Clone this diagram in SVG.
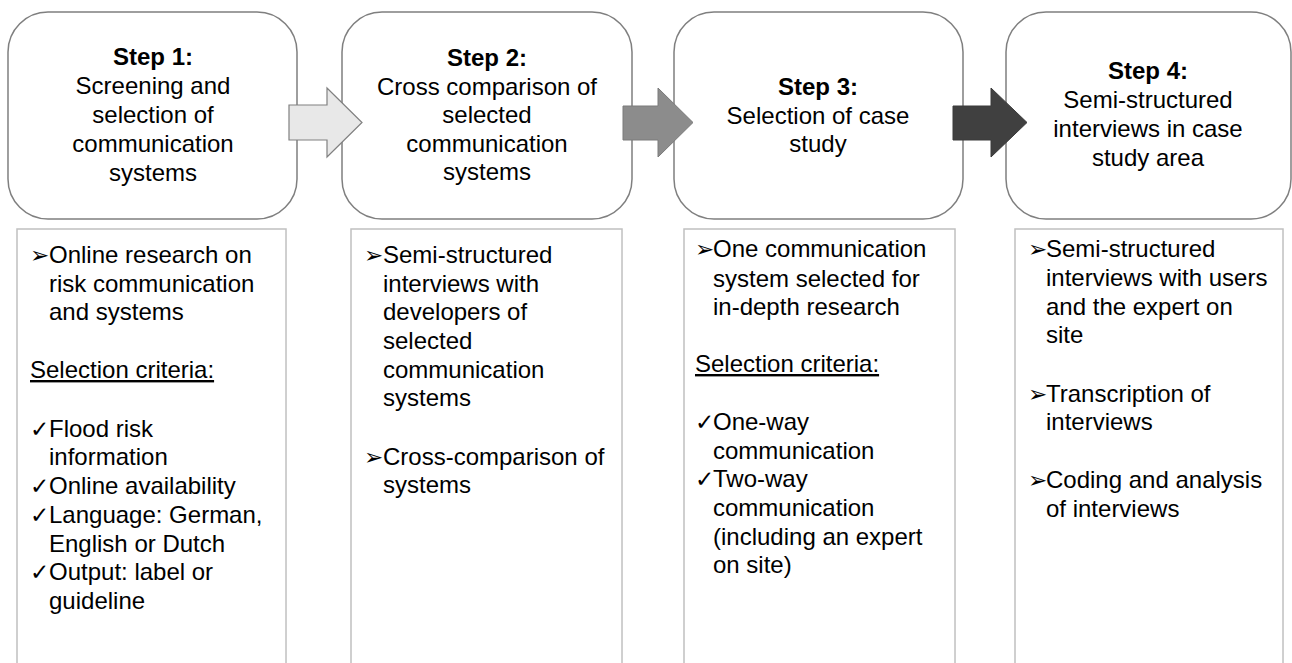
<svg xmlns="http://www.w3.org/2000/svg" width="1292" height="663" viewBox="0 0 1292 663">
<style>
.step{fill:#fff;stroke:#7f7f7f;stroke-width:1.5}
.det{fill:#fff;stroke:#c0c0c0;stroke-width:1.5}
text{font-family:"Liberation Sans",Arial,sans-serif;font-size:24px;fill:#000}
.c{text-anchor:middle}
.b{font-weight:bold}
.sym{font-family:"DejaVu Sans",sans-serif;font-size:23px}
.u{text-decoration:underline}
</style>
<rect width="1292" height="663" fill="#fff"/>
<g id="step1">
<rect class="step" x="8" y="12" width="289" height="207" rx="40"/>
<text class="c b" x="153" y="65">Step 1:</text>
<text class="c" x="153" y="94">Screening and</text>
<text class="c" x="153" y="123">selection of</text>
<text class="c" x="153" y="152">communication</text>
<text class="c" x="153" y="181">systems</text>
</g>
<g id="step2">
<rect class="step" x="342" y="12" width="290" height="207" rx="40"/>
<text class="c b" x="487" y="66">Step 2:</text>
<text class="c" x="487" y="95">Cross comparison of</text>
<text class="c" x="487" y="123">selected</text>
<text class="c" x="487" y="152">communication</text>
<text class="c" x="487" y="180">systems</text>
</g>
<g id="step3">
<rect class="step" x="674" y="12" width="289" height="207" rx="40"/>
<text class="c b" x="818" y="95">Step 3:</text>
<text class="c" x="818" y="124">Selection of case</text>
<text class="c" x="818" y="152">study</text>
</g>
<g id="step4">
<rect class="step" x="1006" y="12" width="285" height="207" rx="40"/>
<text class="c b" x="1148" y="79">Step 4:</text>
<text class="c" x="1148" y="108">Semi-structured</text>
<text class="c" x="1148" y="137">interviews in case</text>
<text class="c" x="1148" y="166">study area</text>
</g>
<g id="connectors">
<path d="M289,105 H327 V88 L362,122.5 L327,157 V140 H289 Z" fill="#e8e8e8" stroke="#808080" stroke-width="1.2"/>
<path d="M623,106 H658 V88 L693,122.5 L658,157 V140 H623 Z" fill="#8c8c8c" stroke="#7a7a7a" stroke-width="1"/>
<path d="M953,106 H991 V88 L1027,122.5 L991,157 V140 H953 Z" fill="#404040" stroke="#3a3a3a" stroke-width="1"/>
</g>
<g id="detail1">
<rect class="det" x="17" y="229" width="269" height="450"/>
<text class="sym" x="30" y="263">➢</text>
<text x="49" y="263">Online research on</text>
<text x="49" y="292">risk communication</text>
<text x="49" y="320">and systems</text>
<text class="u" x="30" y="378">Selection criteria:</text>
<text class="sym" x="30" y="437">✓</text>
<text x="49" y="437">Flood risk</text>
<text x="49" y="465">information</text>
<text class="sym" x="30" y="494">✓</text>
<text x="49" y="494">Online availability</text>
<text class="sym" x="30" y="523">✓</text>
<text x="49" y="523">Language: German,</text>
<text x="49" y="552">English or Dutch</text>
<text class="sym" x="30" y="580">✓</text>
<text x="49" y="580">Output: label or</text>
<text x="49" y="609">guideline</text>
</g>
<g id="detail2">
<rect class="det" x="351" y="229" width="271" height="450"/>
<text class="sym" x="364" y="263">➢</text>
<text x="383" y="263">Semi-structured</text>
<text x="383" y="292">interviews with</text>
<text x="383" y="320">developers of</text>
<text x="383" y="349">selected</text>
<text x="383" y="378">communication</text>
<text x="383" y="406">systems</text>
<text class="sym" x="364" y="465">➢</text>
<text x="383" y="465">Cross-comparison of</text>
<text x="383" y="493">systems</text>
</g>
<g id="detail3">
<rect class="det" x="684" y="229" width="271" height="450"/>
<text class="sym" x="695" y="257">➢</text>
<text x="713" y="257">One communication</text>
<text x="713" y="287">system selected for</text>
<text x="713" y="315">in-depth research</text>
<text class="u" x="695" y="372">Selection criteria:</text>
<text class="sym" x="695" y="430">✓</text>
<text x="713" y="430">One-way</text>
<text x="713" y="459">communication</text>
<text class="sym" x="695" y="487">✓</text>
<text x="713" y="487">Two-way</text>
<text x="713" y="516">communication</text>
<text x="713" y="545">(including an expert</text>
<text x="713" y="573">on site)</text>
</g>
<g id="detail4">
<rect class="det" x="1015" y="229" width="268" height="450"/>
<text class="sym" x="1028" y="257">➢</text>
<text x="1046" y="257">Semi-structured</text>
<text x="1046" y="286">interviews with users</text>
<text x="1046" y="315">and the expert on</text>
<text x="1046" y="343">site</text>
<text class="sym" x="1028" y="402">➢</text>
<text x="1046" y="402">Transcription of</text>
<text x="1046" y="430">interviews</text>
<text class="sym" x="1028" y="488">➢</text>
<text x="1046" y="488">Coding and analysis</text>
<text x="1046" y="517">of interviews</text>
</g>
</svg>
